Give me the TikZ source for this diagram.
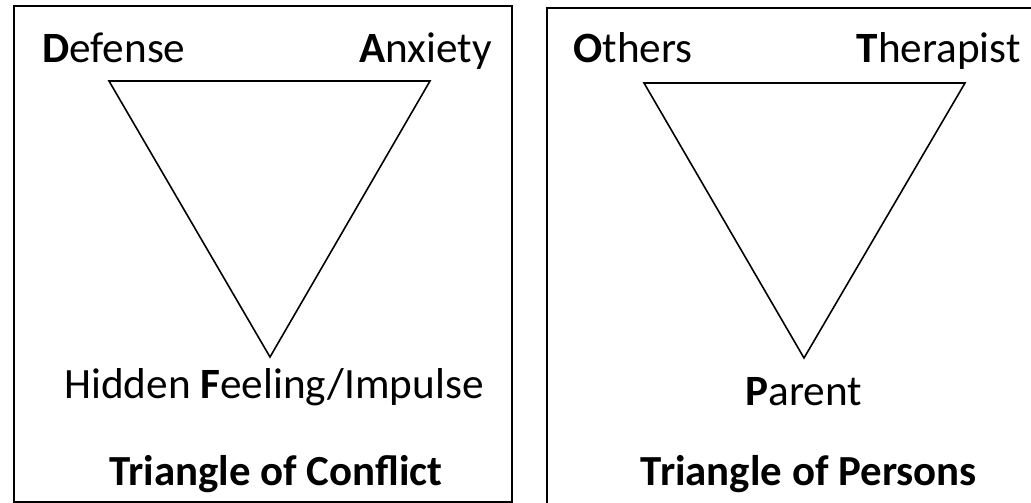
\documentclass[tikz,border=0pt]{standalone}
\usepackage{fontspec}
\setmainfont{Carlito}
\tikzset{
  panel/.style={draw=black, line width=1.2pt},
  triside/.style={draw=black, line width=0.9pt, line join=miter},
  cornerlabel/.style={font=\fontsize{24.6}{28}\selectfont, inner sep=0pt},
  captionlabel/.style={font=\fontsize{24.4}{28}\selectfont\bfseries, inner sep=0pt},
}

\begin{document}
\begin{tikzpicture}[x=0.02cm, y=-0.02cm]
\useasboundingbox (0,0) rectangle (1031,503);
% left panel: conflict
\draw[panel] (14,6) rectangle (512,502);
\coordinate (D) at (109,81);
\coordinate (A) at (430,81);
\coordinate (F) at (270,357);
\draw[triside] (D) -- (A) -- (F) -- cycle;
\node[cornerlabel, anchor=base west] (defense) at (42,63) {\textbf{D}efense};
\node[cornerlabel, anchor=base east] (anxiety) at (492,63) {\textbf{A}nxiety};
\node[cornerlabel, anchor=base] (feeling) at (274,398) {Hidden \textbf{F}eeling/Impulse};
\node[captionlabel, anchor=base] (conflict) at (276,485) {Triangle of Conflict};
% right panel: persons
\draw[panel] (547,8) rectangle (1045,506);
\coordinate (O) at (644,83);
\coordinate (T) at (965,83);
\coordinate (P) at (804,358);
\draw[triside] (O) -- (T) -- (P) -- cycle;
\node[cornerlabel, anchor=base west] (others) at (573,63) {\textbf{O}thers};
\node[cornerlabel, anchor=base east] (therapist) at (1021,63) {\textbf{T}herapist};
\node[cornerlabel, anchor=base] (parent) at (804,405) {\textbf{P}arent};
\node[captionlabel, anchor=base] (persons) at (809,485) {Triangle of Persons};
\end{tikzpicture}
\end{document}
